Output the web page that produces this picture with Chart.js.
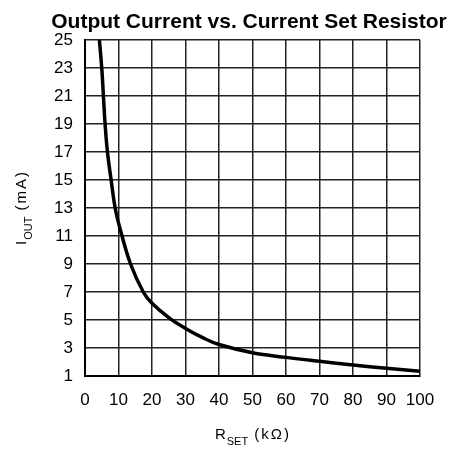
<!DOCTYPE html>
<html>
<head>
<meta charset="utf-8">
<script src="https://cdn.jsdelivr.net/npm/chart.js@4.4.1/dist/chart.umd.min.js"></script>
<style>
  html, body { margin: 0; padding: 0; background: #fff; }
  #wrap { width: 455px; height: 449px; position: relative; }
</style>
</head>
<body>
<div id="wrap"><canvas id="chart-1"></canvas></div>
<script>
// Curve
const rsetK = [4.3, 5.0, 5.5, 6.0, 6.7, 7.8, 9.0, 10.6, 13.6, 17.4, 20, 25.4, 30, 35.3, 40, 50, 60, 70, 80, 90, 100];
const ioutMA = [25, 23, 21, 19, 17, 15, 13, 11.4, 9, 7, 6.2, 5.1, 4.4, 3.72, 3.25, 2.66, 2.33, 2.05, 1.79, 1.55, 1.33];

const xTicks = [0, 10, 20, 30, 40, 50, 60, 70, 80, 90, 100];
const yTicks = [1, 3, 5, 7, 9, 11, 13, 15, 17, 19, 21, 23, 25];

const titleText = 'Output Current vs. Current Set Resistor';
const xTitle = ['R', 'SET', ' (kΩ)'];
const yTitle = ['I', 'OUT', ' (mA)'];

const FONT = '"Liberation Sans", Arial, sans-serif';

// draw "main + subscript + rest", centered on (0,0) of the current transform
function drawSubLabel(ctx, parts) {
    const mainFont = '15px ' + FONT;
    const subFont = '11px ' + FONT;
    ctx.font = mainFont;
    const w1 = ctx.measureText(parts[0]).width;
    ctx.font = subFont;
    const w2 = ctx.measureText(parts[1]).width;
    ctx.font = mainFont;
    ctx.letterSpacing = '2px';
    const w3 = ctx.measureText(parts[2]).width;
    ctx.letterSpacing = '0px';
    let x = -(w1 + w2 + w3) / 2;
    ctx.textAlign = 'left';
    ctx.textBaseline = 'alphabetic';
    ctx.font = mainFont;
    ctx.fillText(parts[0], x, 0);
    x += w1 + 1;
    ctx.font = subFont;
    ctx.fillText(parts[1], x, 6);
    x += w2;
    ctx.font = mainFont;
    ctx.letterSpacing = '2px';
    ctx.fillText(parts[2], x, 0);
    ctx.letterSpacing = '0px';
}

const textPlugin = {
    id: 'texts',
    afterDraw(chart) {
        const ctx = chart.ctx;
        const area = chart.chartArea;
        ctx.save();
        ctx.fillStyle = '#000';
        ctx.font = 'bold 21px ' + FONT;
        ctx.textAlign = 'center';
        ctx.textBaseline = 'alphabetic';
        ctx.fillText(titleText, 249, 28);

        ctx.save();
        ctx.translate((area.left + area.right) / 2, 439);
        drawSubLabel(ctx, xTitle);
        ctx.restore();

        ctx.save();
        ctx.translate(26, (area.top + area.bottom) / 2);
        ctx.rotate(-Math.PI / 2);
        drawSubLabel(ctx, yTitle);
        ctx.restore();
        ctx.restore();
    }
};

const ctx1 = document.getElementById('chart-1').getContext('2d');
const chart1 = new Chart(ctx1, {
    type: 'line',
    data: {
        datasets: [{
            data: rsetK.map((x, i) => ({ x: x, y: ioutMA[i] })),
            borderColor: '#000',
            borderWidth: 3.5,
            pointRadius: 0,
            fill: false,
            tension: 0.4
        }]
    },
    options: {
        responsive: true,
        maintainAspectRatio: false,
        animation: false,
        layout: { padding: { top: 40, right: 35, left: 0, bottom: 0 } },
        plugins: {
            legend: { display: false },
            title: { display: false },
            tooltip: { enabled: false }
        },
        scales: {
            x: {
                type: 'linear',
                min: 0,
                max: 100,
                afterFit: s => { s.height = 73; },
                afterBuildTicks: s => { s.ticks = xTicks.map(v => ({ value: v })); },
                grid: { color: '#222', lineWidth: 1.5, drawTicks: false },
                border: { color: '#000', width: 2 },
                ticks: {
                    color: '#000',
                    padding: 14,
                    maxRotation: 0,
                    font: { family: FONT, size: 17 }
                }
            },
            y: {
                type: 'linear',
                min: 1,
                max: 25,
                afterFit: s => { s.width = 85; },
                afterBuildTicks: s => { s.ticks = yTicks.map(v => ({ value: v })); },
                grid: { color: '#222', lineWidth: 1.5, drawTicks: false },
                border: { color: '#000', width: 2 },
                ticks: {
                    color: '#000',
                    padding: 12,
                    font: { family: FONT, size: 17 }
                }
            }
        }
    },
    plugins: [textPlugin]
});
</script>
</body>
</html>
